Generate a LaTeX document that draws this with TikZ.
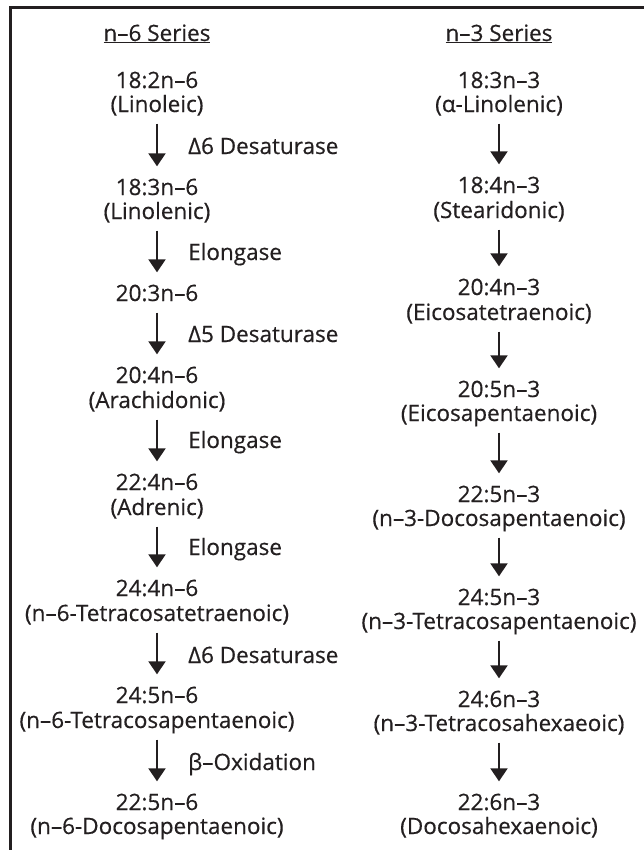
\documentclass[tikz,border=0pt]{standalone}
\usepackage{fontspec}
\setmainfont{Open Sans}[FakeBold=0.5]
\usetikzlibrary{arrows.meta}
\definecolor{ink}{HTML}{231F20}
\newcommand{\fsz}{\fontsize{22.5bp}{24bp}\selectfont}
\begin{document}
\begin{tikzpicture}[x=1bp,y=-1bp,
  txt/.style={inner sep=0pt, text height=16bp, text depth=0bp, font=\fsz, text=ink},
  lab/.style={inner sep=0pt, text height=16bp, text depth=0bp, font=\fsz, text=ink, anchor=west},
  arr/.style={draw=ink, line width=2.2bp, -{Triangle[width=17bp,length=13bp]}, shorten <=11.5bp, shorten >=12.5bp}]
\useasboundingbox (0,0) rectangle (644,850);
\draw[ink, line width=2.5bp] (10.5,850) -- (10.5,7.5) -- (644,7.5);
% titles
\node[txt] (t6) at (157,33) {\underline{n–6 Series}};
\node[txt] (t3) at (499,33) {\underline{n–3 Series}};
% n-6 column
\node[txt] (a1) at (157,80) {18:2n–6};
\node[txt] (a1n) at (157,104) {(Linoleic)};
\node[txt] (a2) at (157,187) {18:3n–6};
\node[txt] (a2n) at (157,211) {(Linolenic)};
\node[txt] (a3) at (157,293) {20:3n–6};
\node[txt] (a4) at (157,375) {20:4n–6};
\node[txt] (a4n) at (157,400) {(Arachidonic)};
\node[txt] (a5) at (157,482) {22:4n–6};
\node[txt] (a5n) at (157,507) {(Adrenic)};
\node[txt] (a6) at (157,588) {24:4n–6};
\node[txt] (a6n) at (157,613) {(n–6-Tetracosatetraenoic)};
\node[txt] (a7) at (157,695) {24:5n–6};
\node[txt] (a7n) at (157,720) {(n–6-Tetracosapentaenoic)};
\node[txt] (a8) at (157,802) {22:5n–6};
\node[txt] (a8n) at (157,826) {(n–6-Docosapentaenoic)};
\draw[arr] (a1n.south) -- (a2.north);
\draw[arr] (a2n.south) -- (a3.north);
\draw[arr] (a3.south) -- (a4.north);
\draw[arr] (a4n.south) -- (a5.north);
\draw[arr] (a5n.south) -- (a6.north);
\draw[arr] (a6n.south) -- (a7.north);
\draw[arr] (a7n.south) -- (a8.north);
\node[lab] (e1) at (188,146) {Δ6 Desaturase};
\node[lab] (e2) at (188,252) {Elongase};
\node[lab] (e3) at (188,334) {Δ5 Desaturase};
\node[lab] (e4) at (188,440) {Elongase};
\node[lab] (e5) at (188,547) {Elongase};
\node[lab] (e6) at (188,655) {Δ6 Desaturase};
\node[lab] (e7) at (188,762) {β–Oxidation};
% n-3 column
\node[txt] (b1) at (499,80) {18:3n–3};
\node[txt] (b1n) at (499,104) {(α-Linolenic)};
\node[txt] (b2) at (499,185) {18:4n–3};
\node[txt] (b2n) at (499,210) {(Stearidonic)};
\node[txt] (b3) at (499,287) {20:4n–3};
\node[txt] (b3n) at (499,312) {(Eicosatetraenoic)};
\node[txt] (b4) at (499,389) {20:5n–3};
\node[txt] (b4n) at (499,413) {(Eicosapentaenoic)};
\node[txt] (b5) at (499,494) {22:5n–3};
\node[txt] (b5n) at (499,518) {(n–3-Docosapentaenoic)};
\node[txt] (b6) at (499,597) {24:5n–3};
\node[txt] (b6n) at (499,621) {(n–3-Tetracosapentaenoic)};
\node[txt] (b7) at (499,699) {24:6n–3};
\node[txt] (b7n) at (499,723) {(n–3-Tetracosahexaeoic)};
\node[txt] (b8) at (499,802) {22:6n–3};
\node[txt] (b8n) at (499,826) {(Docosahexaenoic)};
\draw[arr] (b1n.south) -- (b2.north);
\draw[arr] (b2n.south) -- (b3.north);
\draw[arr] (b3n.south) -- (b4.north);
\draw[arr] (b4n.south) -- (b5.north);
\draw[arr] (b5n.south) -- (b6.north);
\draw[arr] (b6n.south) -- (b7.north);
\draw[arr] (b7n.south) -- (b8.north);
\end{tikzpicture}
\end{document}
